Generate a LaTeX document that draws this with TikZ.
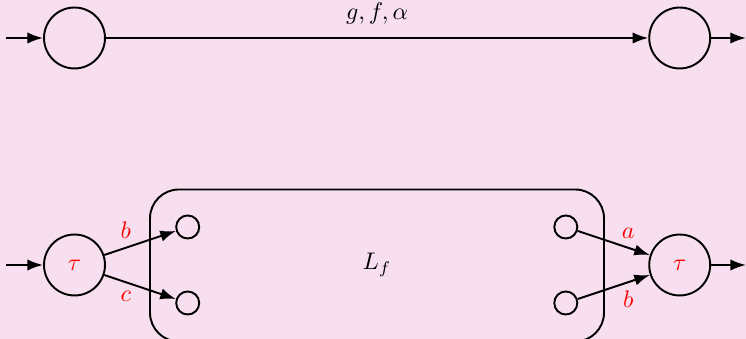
\documentclass[tikz,border=0pt]{standalone}
\usetikzlibrary{arrows.meta}
\definecolor{bgpink}{RGB}{247,223,239}
\begin{document}
\begin{tikzpicture}[x=0.4167pt,y=-0.4167pt,
  line width=0.8pt,
  bigstate/.style={draw,circle,minimum size=25.4pt,inner sep=0pt},
  port/.style={draw,circle,minimum size=9.6pt,inner sep=0pt},
  arr/.style={-{Latex[length=6.5pt,width=4.7pt]}},
  lab/.style={text=red}]
\fill[bgpink] (0,0) rectangle (746,339);
\clip (0,0) rectangle (746,339);
% top row
\node[bigstate] (t1) at (74.5,38) {};
\node[bigstate] (t2) at (679.7,38) {};
\coordinate (tin) at (6,38);
\coordinate (tout) at (746,38);
\draw[arr] (tin) -- (t1);
\draw[arr] (t1) -- node[above=2pt] {$g,f,\alpha$} (t2);
\draw[arr] (t2) -- (tout);
% bottom row
\draw[rounded corners=12pt] (150,189.5) rectangle (604,341.5);
\node (Lf) at (377,265) {$L_f$};
\node[bigstate,lab] (b1) at (74.5,265) {$\tau$};
\node[bigstate,lab] (b2) at (679.7,265) {$\tau$};
\node[port] (p1) at (187.7,227) {};
\node[port] (p2) at (187.7,303) {};
\node[port] (p3) at (565.8,227) {};
\node[port] (p4) at (565.8,303) {};
\coordinate (bin) at (6,265);
\coordinate (bout) at (746,265);
\draw[arr] (bin) -- (b1);
\draw[arr] (b2) -- (bout);
\draw[arr] (b1) -- node[pos=0.3,above,lab] {$b$} (p1);
\draw[arr] (b1) -- node[pos=0.3,below,lab] {$c$} (p2);
\draw[arr] (p3) -- node[pos=0.7,above,lab] {$a$} (b2);
\draw[arr] (p4) -- node[pos=0.7,below,lab] {$b$} (b2);
\end{tikzpicture}
\end{document}
